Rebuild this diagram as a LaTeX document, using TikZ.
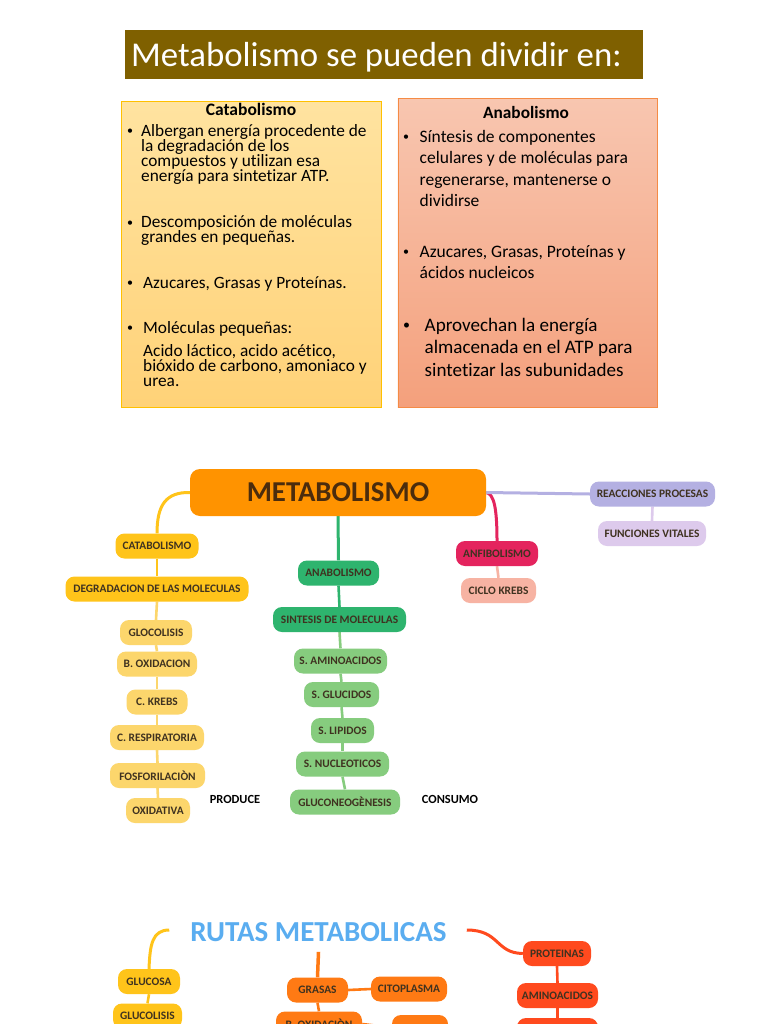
\documentclass[tikz,border=0pt]{standalone}
\usepackage{fontspec}
\setmainfont{Carlito}[Ligatures=CommonOff]
\usetikzlibrary{backgrounds}
\definecolor{olive}{HTML}{7F6000}
\definecolor{catTop}{HTML}{FFE3A0}
\definecolor{catBot}{HTML}{FFD278}
\definecolor{catBorder}{HTML}{FFC000}
\definecolor{anaTop}{HTML}{F8C6B0}
\definecolor{anaBot}{HTML}{F4A07C}
\definecolor{anaBorder}{HTML}{F58B45}
\definecolor{metaO}{HTML}{FF9300}
\definecolor{metaTxt}{HTML}{4B2C0D}
\definecolor{mmtext}{HTML}{3F3220}
\definecolor{catY}{HTML}{FFC41A}
\definecolor{catL}{HTML}{FCD66C}
\definecolor{grn}{HTML}{2EB46E}
\definecolor{grnL}{HTML}{86CC7E}
\definecolor{crim}{HTML}{E4245E}
\definecolor{salm}{HTML}{F7B3A3}
\definecolor{lav}{HTML}{B4B0E2}
\definecolor{lil}{HTML}{DDCAEC}
\definecolor{rutasB}{HTML}{5AADF0}
\definecolor{orn}{HTML}{FF7A14}
\definecolor{rd}{HTML}{FF4A1E}
\newcommand{\catf}{\fontsize{17.3}{15}\selectfont}
\newcommand{\anaf}{\fontsize{17.5}{15}\selectfont}
\newcommand{\anafb}{\fontsize{19.1}{17}\selectfont}
\newcommand{\bulf}{\fontsize{12}{12}\selectfont}
\newcommand{\mmf}{\fontsize{11.4}{12}\selectfont\bfseries}
\newcommand{\lblf}{\fontsize{12.4}{13}\selectfont\bfseries}
\tikzset{
  ln/.style={anchor=base west, inner sep=0pt},
  bul/.style={anchor=base west, inner sep=0pt, font=\bulf},
  mm/.style={rounded corners=9pt, minimum height=25pt, inner sep=0pt, font=\mmf, text=mmtext},
  con/.style={line width=2.6pt},
}
\begin{document}
\begin{tikzpicture}[x=1pt,y=-1pt]
\useasboundingbox (0,0) rectangle (768,1024);
\clip (0,0) rectangle (768,1024);

% title
\node[fill=olive, minimum width=518pt, minimum height=49pt, anchor=north west, inner sep=0pt] (title) at (125,30) {};
\node[anchor=west, text=white, font=\fontsize{34.8}{38}\selectfont, inner sep=0pt] (titletxt) at ([xshift=6pt,yshift=-3pt]title.west) {Metabolismo se pueden dividir en:};

% Catabolismo box
\node[draw=catBorder, line width=0.8pt, top color=catTop, bottom color=catBot, minimum width=260pt, minimum height=306pt, anchor=north west, inner sep=0pt] (catbox) at (121,101) {};
\node[anchor=base, inner sep=0pt, font=\fontsize{17.5}{15}\selectfont\bfseries] (cattitle) at (251,115.5) {Catabolismo};
\node[bul] (cb1) at (127,135) {•};
\node[ln, font=\catf] (c1) at (141,137) {Albergan energía procedente de};
\node[ln, font=\catf] (c2) at (141,152) {la degradación de los};
\node[ln, font=\catf] (c3) at (141,167) {compuestos y utilizan esa};
\node[ln, font=\catf] (c4) at (141,182) {energía para sintetizar ATP.};
\node[bul] (cb2) at (127,226) {•};
\node[ln, font=\catf] (c5) at (141,228) {Descomposición de moléculas};
\node[ln, font=\catf] (c6) at (141,243) {grandes en pequeñas.};
\node[bul] (cb3) at (127,286) {•};
\node[ln, font=\catf] (c7) at (143,288) {Azucares, Grasas y Proteínas.};
\node[bul] (cb4) at (127,331) {•};
\node[ln, font=\catf] (c8) at (143,333) {Moléculas pequeñas:};
\node[ln, font=\catf] (c9) at (143,356) {Acido láctico, acido acético,};
\node[ln, font=\catf] (c10) at (143,371) {bióxido de carbono, amoniaco y};
\node[ln, font=\catf] (c11) at (143,386) {urea.};

% Anabolismo box
\node[draw=anaBorder, line width=0.8pt, top color=anaTop, bottom color=anaBot, minimum width=259pt, minimum height=309pt, anchor=north west, inner sep=0pt] (anabox) at (397.5,98.3) {};
\node[anchor=base, inner sep=0pt, font=\fontsize{17.3}{15}\selectfont\bfseries] (anatitle) at (526,118.5) {Anabolismo};
\node[bul] (ab1) at (403,141) {•};
\node[ln, font=\anaf] (a1) at (419.5,143) {Síntesis de componentes};
\node[ln, font=\anaf] (a2) at (419.5,164) {celulares y de moléculas para};
\node[ln, font=\anaf] (a3) at (419.5,185.5) {regenerarse, mantenerse o};
\node[ln, font=\anaf] (a4) at (419.5,206.5) {dividirse};
\node[bul] (ab2) at (403,255) {•};
\node[ln, font=\anaf] (a5) at (419.5,257) {Azucares, Grasas, Proteínas y};
\node[ln, font=\anaf] (a6) at (419.5,278) {ácidos nucleicos};
\node[bul, font=\fontsize{14}{14}\selectfont] (ab3) at (403,329.5) {•};
\node[ln, font=\anafb] (a7) at (424.5,331) {Aprovechan la energía};
\node[ln, font=\anafb] (a8) at (424.5,353.5) {almacenada en el ATP para};
\node[ln, font=\anafb] (a9) at (424.5,376.5) {sintetizar las subunidades};

% ===== Mind map 1 =====
\node[fill=metaO, rounded corners=10pt, minimum width=296pt, minimum height=47pt, inner sep=0pt, text=metaTxt, font=\fontsize{28.8}{30}\selectfont\bfseries] (meta) at (338,492.5) {METABOLISMO};

\node[mm, fill=catY, minimum width=83pt] (cat) at (157,546) {CATABOLISMO};
\node[mm, fill=catY, minimum width=183pt] (deg) at (157,589) {DEGRADACION DE LAS MOLECULAS};
\node[mm, fill=catL, minimum width=72pt] (gloc) at (156,632.5) {GLOCOLISIS};
\node[mm, fill=catL, minimum width=80pt] (boxi) at (157,664) {B. OXIDACION};
\node[mm, fill=catL, minimum width=61pt] (ckr) at (157,702) {C. KREBS};
\node[mm, fill=catL, minimum width=94pt] (cres) at (157,737.5) {C. RESPIRATORIA};
\node[mm, fill=catL, minimum width=95pt] (fosf) at (157.5,775.5) {FOSFORILACIÒN};
\node[mm, fill=catL, minimum width=64pt] (oxid) at (158,810.5) {OXIDATIVA};
\node[inner sep=0pt, font=\lblf, text=black] (produce) at (235,799.5) {PRODUCE};

\node[mm, fill=grn, minimum width=81pt] (anab) at (338.5,573) {ANABOLISMO};
\node[mm, fill=grn, minimum width=133pt] (sint) at (339.5,619.5) {SINTESIS DE MOLECULAS};
\node[mm, fill=grnL, minimum width=93pt] (sam) at (340.5,661) {S. AMINOACIDOS};
\node[mm, fill=grnL, minimum width=75pt] (sgl) at (341.5,694.5) {S. GLUCIDOS};
\node[mm, fill=grnL, minimum width=63pt] (sli) at (342.5,730.5) {S. LIPIDOS};
\node[mm, fill=grnL, minimum width=93pt] (snu) at (342.5,764) {S. NUCLEOTICOS};
\node[mm, fill=grnL, minimum width=110pt] (gneo) at (345,802) {GLUCONEOGÈNESIS};
\node[inner sep=0pt, font=\lblf, text=black] (consumo) at (450,799.5) {CONSUMO};

\node[mm, fill=crim, minimum width=82pt] (anf) at (497,553.5) {ANFIBOLISMO};
\node[mm, fill=salm, minimum width=75pt] (ckb) at (498.5,590.5) {CICLO KREBS};
\node[mm, fill=lav, minimum width=125pt] (reac) at (652.5,494) {REACCIONES PROCESAS};
\node[mm, fill=lil, minimum width=108pt] (func) at (652,533.5) {FUNCIONES VITALES};

% ===== Mind map 2 =====
\node[inner sep=0pt, text=rutasB, font=\fontsize{29}{30}\selectfont\bfseries] (rutas) at (318.5,932) {RUTAS METABOLICAS};
\node[mm, fill=catY, minimum width=62pt] (gluc) at (149,981.5) {GLUCOSA};
\node[mm, fill=catY, minimum width=69pt] (glucl) at (147.5,1016) {GLUCOLISIS};
\node[mm, fill=orn, minimum width=61pt] (gras) at (317.5,990) {GRASAS};
\node[mm, fill=orn, minimum width=76pt] (cito) at (409,989) {CITOPLASMA};
\node[mm, fill=orn, minimum width=86pt] (boxd) at (319,1024) {B. OXIDACIÒN};
\node[mm, fill=orn, minimum width=56pt] (onx) at (420,1027.5) {};
\node[mm, fill=rd, minimum width=68pt] (prot) at (557,953.5) {PROTEINAS};
\node[mm, fill=rd, minimum width=81pt] (amin) at (557.5,995.5) {AMINOACIDOS};
\node[mm, fill=rd, minimum width=81pt] (rnx) at (557.5,1030.5) {};

\begin{scope}[on background layer]
\fill[white] (0,0) rectangle (768,1024);
% connectors map 1
\draw[con, catY, line width=3pt] (meta.west) .. controls (166,492) and (157,505) .. (cat.north);
\draw[con, grn, line width=3pt] (meta.south) -- (anab.north);
\draw[con, crim, line width=3pt] (meta.east) .. controls (494,494) and (497,508) .. (anf.north);
\draw[con, lav, line width=3pt] (meta.east) -- (reac.west);
\draw[con, catY] (cat.south) -- (deg.north);
\draw[con, catL] (deg.south) -- (gloc.north);
\draw[con, catL] (gloc.south) -- (boxi.north);
\draw[con, catL] (boxi.south) -- (ckr.north);
\draw[con, catL] (ckr.south) -- (cres.north);
\draw[con, catL] (cres.south) -- (fosf.north);
\draw[con, catL] (fosf.south) -- (oxid.north);
\draw[con, grn] (anab.south) -- (sint.north);
\draw[con, grnL] (sint.south) -- (sam.north);
\draw[con, grnL] (sam.south) -- (sgl.north);
\draw[con, grnL] (sgl.south) -- (sli.north);
\draw[con, grnL] (sli.south) -- (snu.north);
\draw[con, grnL] (snu.south) -- (gneo.north);
\draw[con, salm] (anf.south) -- (ckb.north);
\draw[con, lil] (reac.south) -- (func.north);
% connectors map 2
\draw[con, catY, line width=3pt] ([xshift=-21pt,yshift=2pt]rutas.west) .. controls (152,930) and (150,945) .. (gluc.north);
\draw[con, catY] (gluc.south) -- (glucl.north);
\draw[con, orn, line width=3.5pt] ([yshift=-10pt]rutas.south) -- (gras.north);
\draw[con, orn] (gras.east) -- (cito.west);
\draw[con, orn] (gras.south) -- (boxd.north);
\draw[con, orn] (boxd.east) -- (onx.west);
\draw[con, rd, line width=3pt] ([xshift=20pt,yshift=2pt]rutas.east) .. controls (500,930) and (495,953) .. (prot.west);
\draw[con, rd] (prot.south) -- (amin.north);
\draw[con, rd] (amin.south) -- (rnx.north);
\end{scope}
\end{tikzpicture}
\end{document}
